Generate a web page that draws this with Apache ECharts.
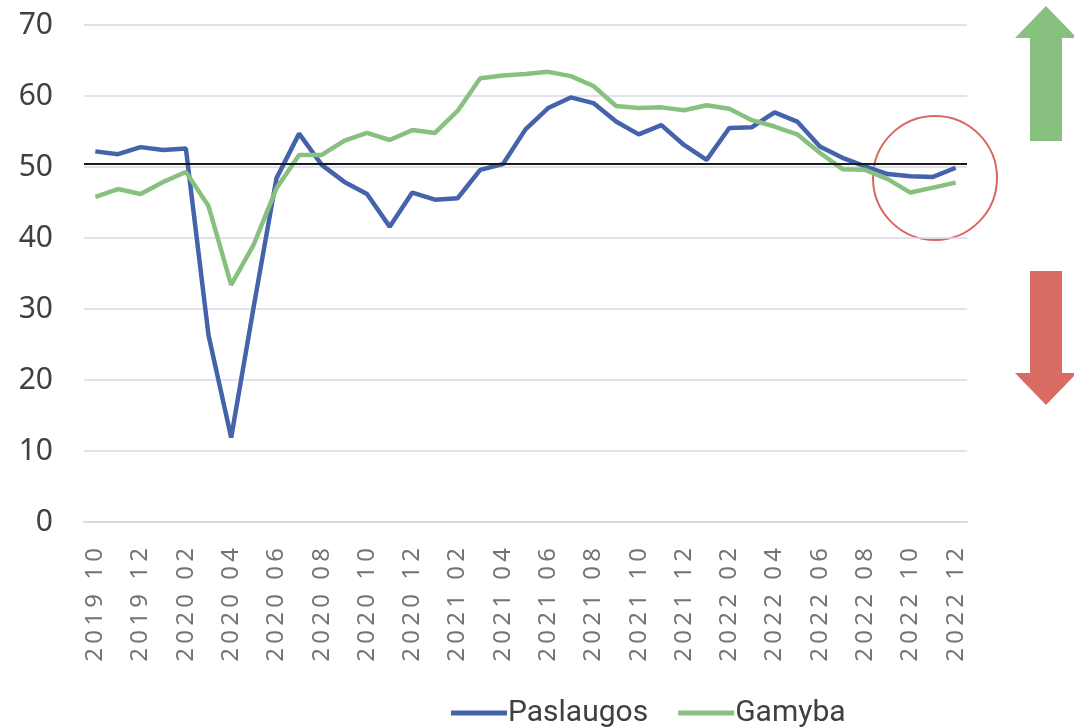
<!DOCTYPE html>
<html>
<head>
<meta charset="utf-8">
<script src="https://cdn.jsdelivr.net/npm/echarts@6/dist/echarts.min.js"></script>
<style>
  html, body { margin: 0; padding: 0; background: #fff; }
  #chart { width: 1074px; height: 728px; }
</style>
</head>
<body>
<div id="chart"></div>
<script>
// months 2019 10 .. 2022 12
const months = [
  '2019 10', '2019 11', '2019 12',
  '2020 01', '2020 02', '2020 03', '2020 04', '2020 05', '2020 06',
  '2020 07', '2020 08', '2020 09', '2020 10', '2020 11', '2020 12',
  '2021 01', '2021 02', '2021 03', '2021 04', '2021 05', '2021 06',
  '2021 07', '2021 08', '2021 09', '2021 10', '2021 11', '2021 12',
  '2022 01', '2022 02', '2022 03', '2022 04', '2022 05', '2022 06',
  '2022 07', '2022 08', '2022 09', '2022 10', '2022 11', '2022 12'
]
const paslaugos = [
  52.2, 51.8, 52.8, 52.4, 52.6, 26.3, 11.9, 30.4, 48.4, 54.7,
  50.3, 47.9, 46.2, 41.6, 46.4, 45.4, 45.6, 49.6, 50.4, 55.3,
  58.3, 59.8, 59.0, 56.4, 54.6, 55.9, 53.1, 51.0, 55.5, 55.6,
  57.7, 56.4, 52.9, 51.3, 50.1, 49.0, 48.7, 48.6, 49.9
]
const gamyba = [
  45.8, 46.9, 46.2, 47.9, 49.3, 44.5, 33.4, 39.1, 47.0, 51.7,
  51.7, 53.7, 54.8, 53.8, 55.2, 54.8, 57.9, 62.5, 62.9, 63.1,
  63.4, 62.8, 61.4, 58.6, 58.3, 58.4, 58.0, 58.7, 58.2, 56.6,
  55.7, 54.6, 52.0, 49.7, 49.6, 48.3, 46.4, 47.1, 47.8
]
const threshold = 50.5
const yTicks = { min: 0, max: 70, step: 10 }

const gridColor = '#d9d9e6'
const colors = ['#4463ab', '#88c17f']

const chart = echarts.init(document.getElementById('chart'))

// spread each character of the date label (the original uses wide spacing)
function spaced(v) {
  return v.split('').map(c => c === ' ' ? '{s| }' : '{d|' + c + '}').join('')
}

chart.setOption({
  animation: false,
  color: colors,
  grid: { left: 84, right: 107, top: 25, bottom: 206 },
  legend: {
    data: ['Paslaugos', 'Gamyba'],
    left: 446,
    top: 693,
    icon: 'rect',
    itemWidth: 56,
    itemHeight: 5,
    itemGap: 30,
    textStyle: { fontFamily: 'Roboto', fontSize: 30, color: '#404040', padding: [0, 0, 0, -4] }
  },
  xAxis: {
    type: 'category',
    data: months,
    boundaryGap: true,
    axisLine: { lineStyle: { color: gridColor, width: 2 } },
    axisTick: { interval: 1, inside: true, length: 7, lineStyle: { color: gridColor, width: 1.5 } },
    axisLabel: {
      interval: 1,
      rotate: 90,
      margin: 24,
      formatter: spaced,
      fontFamily: 'Noto Sans',
      fontSize: 24,
      color: '#737373',
      rich: {
        d: { fontFamily: 'Noto Sans', fontSize: 24, color: '#737373', width: 18, align: 'center' },
        s: { fontFamily: 'Noto Sans', fontSize: 24, width: 10 }
      }
    }
  },
  yAxis: {
    type: 'value',
    min: yTicks.min,
    max: yTicks.max,
    interval: yTicks.step,
    axisLine: { show: false },
    axisTick: { show: false },
    splitLine: { lineStyle: { color: gridColor, width: 1.5 } },
    axisLabel: { fontFamily: 'Noto Sans', fontSize: 30, color: '#404040', margin: 31 }
  },
  series: [
    {
      name: 'Paslaugos',
      type: 'line',
      data: paslaugos,
      showSymbol: false,
      lineStyle: { width: 4.5, color: colors[0] },
      markLine: {
        silent: true,
        symbol: 'none',
        label: { show: false },
        lineStyle: { color: '#1a1a1a', width: 2, type: 'solid' },
        data: [{ yAxis: threshold }]
      }
    },
    {
      name: 'Gamyba',
      type: 'line',
      data: gamyba,
      showSymbol: false,
      lineStyle: { width: 4.5, color: colors[1] }
    }
  ],
  graphic: [
    {
      type: 'circle',
      shape: { cx: 935, cy: 178, r: 62 },
      style: { fill: 'none', stroke: '#d9675d', lineWidth: 2 }
    },
    {
      // up arrow
      type: 'polygon',
      shape: { points: [[1046, 6], [1077, 38], [1062, 38], [1062, 141], [1030, 141], [1030, 38], [1015, 38]] },
      style: { fill: '#88c07f' }
    },
    {
      // down arrow
      type: 'polygon',
      shape: { points: [[1030, 271], [1062, 271], [1062, 373], [1077, 373], [1046, 405], [1015, 373], [1030, 373]] },
      style: { fill: '#d86c62' }
    }
  ]
})
</script>
</body>
</html>
